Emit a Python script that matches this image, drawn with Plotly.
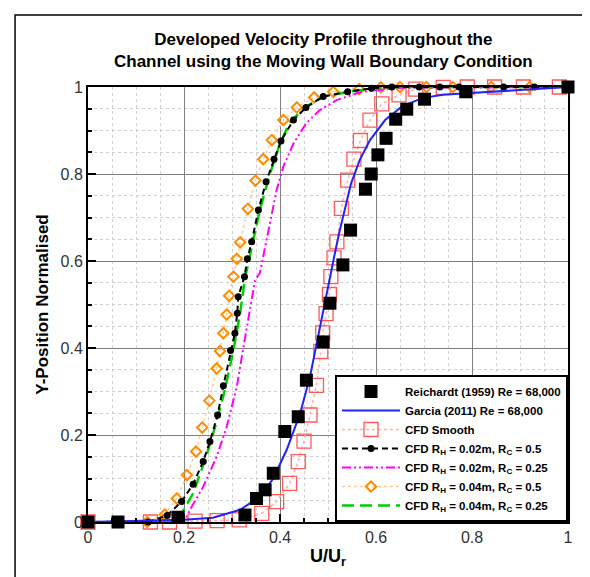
import plotly.graph_objects as go

# Reichardt (1959) experimental data
reich_x = [0.0, 0.0625, 0.1875, 0.327, 0.351, 0.369, 0.386, 0.41, 0.438, 0.455, 0.49, 0.504,
           0.531, 0.547, 0.578, 0.59, 0.604, 0.621, 0.641, 0.664, 0.701, 0.787, 1.0]
reich_y = [0.0, 0.0, 0.011, 0.016, 0.054, 0.074, 0.112, 0.208, 0.242, 0.326, 0.414, 0.503,
           0.591, 0.671, 0.765, 0.80, 0.844, 0.882, 0.926, 0.949, 0.972, 0.989, 1.0]

# Garcia (2011)
garcia_x = [0.0, 0.1, 0.2, 0.26, 0.317, 0.358, 0.386, 0.414, 0.442, 0.4625, 0.476, 0.49, 0.5,
            0.5125, 0.523, 0.534, 0.548, 0.566, 0.5875, 0.619, 0.655, 0.698, 0.74, 0.797, 0.9, 1.0]
garcia_y = [0.0, 0.002, 0.005, 0.01, 0.028, 0.058, 0.1, 0.166, 0.25, 0.334, 0.41, 0.487, 0.54,
            0.608, 0.663, 0.717, 0.778, 0.832, 0.878, 0.924, 0.956, 0.975, 0.982, 0.986, 0.993, 1.0]

# CFD Smooth
smooth_x = [0.0, 0.13, 0.17, 0.223, 0.269, 0.315, 0.362, 0.393, 0.42, 0.438, 0.45, 0.4625, 0.476,
            0.485, 0.489, 0.496, 0.503, 0.506, 0.5125, 0.5185, 0.528, 0.541, 0.554, 0.5675, 0.5875,
            0.612, 0.648, 0.683, 0.74, 0.79, 0.847, 0.907, 0.982]
smooth_y = [0.0, 0.0, 0.0, 0.002, 0.003, 0.005, 0.02, 0.047, 0.089, 0.139, 0.186, 0.246, 0.314,
            0.392, 0.435, 0.479, 0.523, 0.564, 0.607, 0.644, 0.721, 0.786, 0.834, 0.877, 0.924,
            0.961, 0.982, 0.995, 0.999, 1.0, 1.0, 1.0, 1.0]

# CFD RH = 0.02m, RC = 0.5
c1_x = [0.0, 0.125, 0.165, 0.195, 0.219, 0.24, 0.254, 0.27, 0.282, 0.297, 0.306, 0.311, 0.313,
        0.326, 0.332, 0.341, 0.355, 0.371, 0.3875, 0.402, 0.428, 0.454, 0.49, 0.541, 0.591,
        0.633, 0.69, 0.733, 0.773, 0.866, 0.93, 1.0]
c1_y = [0.0, 0.0, 0.015, 0.047, 0.087, 0.139, 0.185, 0.246, 0.313, 0.394, 0.434, 0.48, 0.518,
        0.564, 0.605, 0.644, 0.717, 0.782, 0.834, 0.876, 0.924, 0.953, 0.978, 0.989, 0.997,
        1.0, 1.0, 1.0, 1.0, 1.0, 1.0, 1.0]

# CFD RH = 0.02m, RC = 0.25
c2_x = [0.0, 0.19, 0.202, 0.216, 0.24, 0.268, 0.289, 0.31, 0.324, 0.3375, 0.348, 0.358, 0.369,
        0.379, 0.393, 0.407, 0.428, 0.455, 0.483, 0.518, 0.57, 0.65, 1.0]
c2_y = [0.0, 0.0, 0.005, 0.035, 0.081, 0.15, 0.219, 0.311, 0.403, 0.495, 0.556, 0.572, 0.633,
        0.694, 0.763, 0.817, 0.87, 0.917, 0.947, 0.97, 0.989, 0.998, 1.0]

# CFD RH = 0.04m, RC = 0.5
c3_x = [0.0, 0.123, 0.16, 0.185, 0.206, 0.225, 0.238, 0.253, 0.268, 0.275, 0.282, 0.289, 0.294,
        0.303, 0.31, 0.317, 0.333, 0.349, 0.365, 0.383, 0.407, 0.435, 0.471, 0.511, 0.565,
        0.61, 0.65, 0.705, 0.76, 0.84, 0.92, 1.0]
c3_y = [0.0, 0.0, 0.017, 0.054, 0.108, 0.162, 0.217, 0.279, 0.353, 0.393, 0.434, 0.477, 0.52,
        0.564, 0.605, 0.643, 0.72, 0.785, 0.834, 0.878, 0.924, 0.953, 0.976, 0.989, 0.995,
        0.999, 1.0, 1.0, 1.0, 1.0, 1.0, 1.0]

# CFD RH = 0.04m, RC = 0.25
c4_x = [0.0, 0.174, 0.195, 0.219, 0.244, 0.265, 0.285, 0.303, 0.317, 0.327, 0.358, 0.379, 0.4,
        0.421, 0.455, 0.49, 0.55, 0.6, 0.65, 1.0]
c4_y = [0.0, 0.0, 0.02, 0.066, 0.143, 0.219, 0.303, 0.395, 0.48, 0.56, 0.717, 0.8, 0.87,
        0.92, 0.955, 0.978, 0.99, 0.997, 1.0, 1.0]

tick_vals = [0, 0.2, 0.4, 0.6, 0.8, 1]
tick_text = ["0", "0.2", "0.4", "0.6", "0.8", "1"]

title_lines = ["Developed Velocity Profile throughout the",
               "Channel using the Moving Wall Boundary Condition"]

FONT = "Liberation Sans, Arial"

st_smooth = dict(mode="lines+markers", line=dict(color="#ffb0a8", width=1.5, dash="dot"),
                 marker=dict(symbol="square-open", size=14, color="#ff5a5a", line=dict(width=1.3)))
st_c3 = dict(mode="lines+markers", line=dict(color="#ffc9a0", width=1.5, dash="dot"),
             marker=dict(symbol="diamond-open", size=8, color="#ff8c00", line=dict(width=2)))
st_c2 = dict(mode="lines", line=dict(color="#ff00ff", width=2, dash="9px,3px,2px,3px,2px,3px"))
st_c4 = dict(mode="lines", line=dict(color="#00cc00", width=2.5, dash="12px,6px"))
st_c1 = dict(mode="lines+markers", line=dict(color="black", width=2, dash="6px,4px"),
             marker=dict(symbol="circle", size=7, color="black"))
st_garcia = dict(mode="lines", line=dict(color="#2222ff", width=2))
st_reich = dict(mode="markers", marker=dict(symbol="square", size=13, color="black"))

fig = go.Figure()
for xs, ys, st in [(smooth_x, smooth_y, st_smooth), (c3_x, c3_y, st_c3), (c2_x, c2_y, st_c2),
                   (c4_x, c4_y, st_c4), (c1_x, c1_y, st_c1), (garcia_x, garcia_y, st_garcia),
                   (reich_x, reich_y, st_reich)]:
    fig.add_trace(go.Scatter(x=xs, y=ys, cliponaxis=False, showlegend=False, hoverinfo="skip", **st))

# legend entries in the reference order
leg = [
    ("Reichardt (1959) Re = 68,000", st_reich),
    ("Garcia (2011) Re = 68,000", st_garcia),
    ("CFD Smooth", st_smooth),
    ("CFD R<sub>H</sub> = 0.02m, R<sub>C</sub> = 0.5", st_c1),
    ("CFD R<sub>H</sub> = 0.02m, R<sub>C</sub> = 0.25", st_c2),
    ("CFD R<sub>H</sub> = 0.04m, R<sub>C</sub> = 0.5", st_c3),
    ("CFD R<sub>H</sub> = 0.04m, R<sub>C</sub> = 0.25", st_c4),
]
for name, st in leg:
    fig.add_trace(go.Scatter(x=[None], y=[None], name=name, showlegend=True, **st))

axis_common = dict(
    range=[0, 1], tickvals=tick_vals, ticktext=tick_text, automargin=False,
    showline=True, linecolor="black", linewidth=2, mirror=True,
    ticks="inside", ticklen=8, tickwidth=2, tickcolor="black",
    showgrid=True, gridcolor="#808080", gridwidth=1,
    zeroline=False,
    tickfont=dict(family=FONT, size=16, color="#333"),
    minor=dict(dtick=0.05, tick0=0, showgrid=True, gridcolor="#d0d0d0", griddash="dot",
               gridwidth=1, ticks="inside", ticklen=4, tickcolor="black"),
)

fig.update_xaxes(**axis_common,
                 title=dict(text="<b>U/U<sub>r</sub></b>", font=dict(family=FONT, size=18, color="black"),
                            standoff=4))
fig.update_yaxes(**axis_common,
                 title=dict(text="<b>Y-Position Normalised</b>", font=dict(family=FONT, size=17, color="black"),
                            standoff=8))

fig.update_layout(
    width=590, height=577,
    margin=dict(l=80, r=30, t=79, b=63),
    plot_bgcolor="white", paper_bgcolor="white",
    legend=dict(x=1, xanchor="right", y=0, yanchor="bottom",
                bgcolor="white", bordercolor="black", borderwidth=2,
                font=dict(family=FONT, size=11.5, color="black", weight="bold"),
                itemwidth=58, tracegroupgap=0),
    annotations=[
        dict(text="<b>" + title_lines[0] + "<br>" + title_lines[1] + "</b>",
             xref="paper", yref="paper", x=0.49, y=1.0839,
             xanchor="center", yanchor="middle", showarrow=False,
             font=dict(family=FONT, size=17, color="black")),
    ],
    shapes=[dict(type="rect", xref="paper", yref="paper",
                 x0=-0.152, x1=1.0417, y0=-0.2, y1=1.1655,
                 line=dict(color="black", width=1.5), fillcolor="rgba(0,0,0,0)", layer="below")],
)

fig.write_html("out.html")
